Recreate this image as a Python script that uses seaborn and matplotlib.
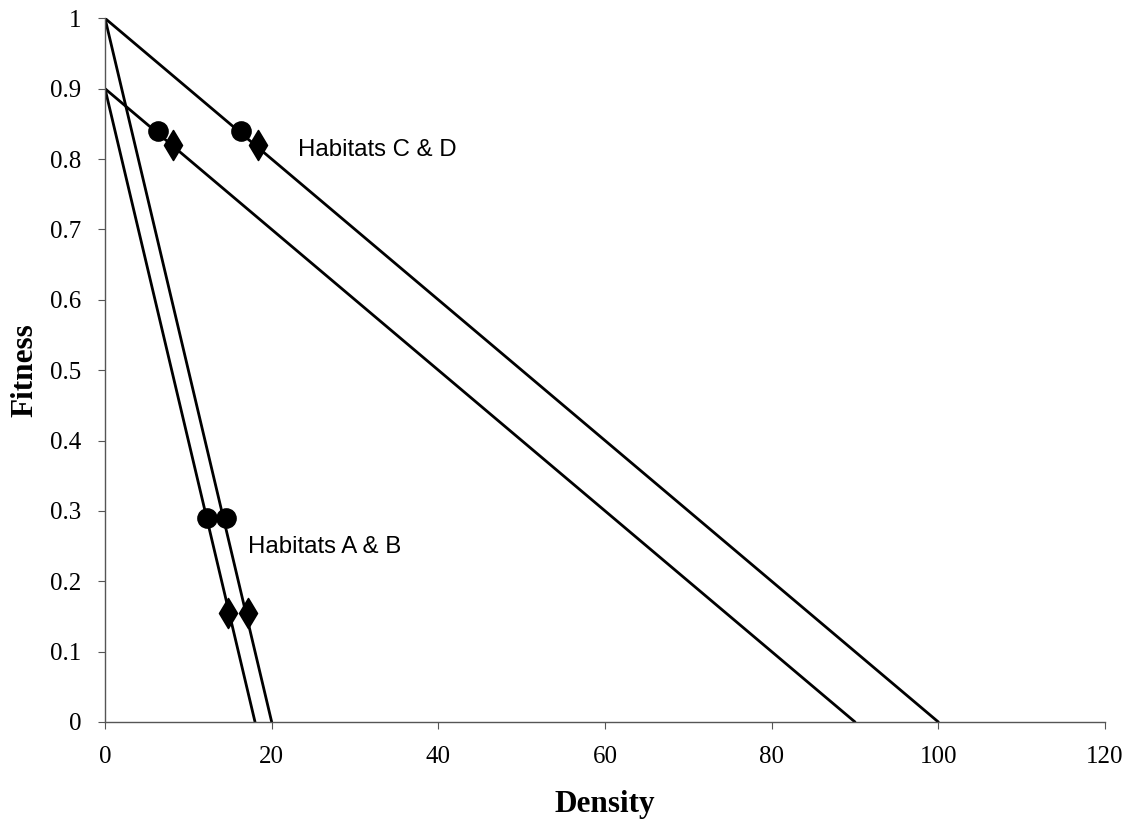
import pandas as pd
import matplotlib.pyplot as plt
import seaborn as sns

# lines: start and end points of each fitness function
line_names = ['C', 'D', 'A', 'B']
line_x0 = [0, 0, 0, 0]
line_y0 = [1.0, 0.9, 1.0, 0.9]
line_x1 = [100, 90, 20, 18]
line_y1 = [0, 0, 0, 0]

# equilibrium points
circle_x = [6.3, 16.3, 12.2, 14.5]
circle_y = [0.84, 0.84, 0.29, 0.29]
diamond_x = [8.2, 18.4, 14.8, 17.1]
diamond_y = [0.82, 0.82, 0.155, 0.155]

xticks = [0, 20, 40, 60, 80, 100, 120]
yticks = [0, 0.1, 0.2, 0.3, 0.4, 0.5, 0.6, 0.7, 0.8, 0.9, 1]
ytick_labels = ['0', '0.1', '0.2', '0.3', '0.4', '0.5', '0.6', '0.7', '0.8', '0.9', '1']

rows = []
for n, a, b, c, d in zip(line_names, line_x0, line_y0, line_x1, line_y1):
    rows.append({'line': n, 'x': a, 'y': b})
    rows.append({'line': n, 'x': c, 'y': d})
lines_df = pd.DataFrame(rows)
circles = pd.DataFrame({'x': circle_x, 'y': circle_y})
diamonds = pd.DataFrame({'x': diamond_x, 'y': diamond_y})

sns.set_style('white')
fig = plt.figure(figsize=(11.33, 8.34), dpi=100)
ax = fig.add_axes([0.0927, 0.1343, 0.8826, 0.8437])

sns.lineplot(data=lines_df, x='x', y='y', units='line', estimator=None,
             color='black', linewidth=2, ax=ax, sort=False)
sns.scatterplot(data=circles, x='x', y='y', marker='o', s=190, color='black',
                edgecolor='black', ax=ax, zorder=5)
sns.scatterplot(data=diamonds, x='x', y='y', marker='d', s=230, color='black',
                edgecolor='black', ax=ax, zorder=5)

ax.set_xlim(0, 120)
ax.set_ylim(0, 1)
ax.set_xticks(xticks)
ax.set_yticks(yticks)
ax.set_yticklabels(ytick_labels)
for lab in ax.get_xticklabels() + ax.get_yticklabels():
    lab.set_fontfamily('Liberation Serif')
    lab.set_fontsize(18)
    lab.set_color('black')
ax.tick_params(axis='both', direction='out', length=5, width=0.8,
               color='#555555', pad=12, left=True, bottom=True)

for side in ['top', 'right']:
    ax.spines[side].set_visible(False)
for side in ['left', 'bottom']:
    ax.spines[side].set_color('#555555')
    ax.spines[side].set_linewidth(1)

ax.set_xlabel('Density', fontfamily='Liberation Serif', fontsize=22.5,
              fontweight='bold', labelpad=16, color='black')
ax.set_ylabel('Fitness', fontfamily='Liberation Serif', fontsize=22.5,
              fontweight='bold', labelpad=8, color='black')

ax.text(23.2, 0.813, 'Habitats C & D', fontfamily='Liberation Sans',
        fontsize=17.3, va='center', color='black')
ax.text(17.1, 0.248, 'Habitats A & B', fontfamily='Liberation Sans',
        fontsize=17.3, va='center', color='black')

fig.savefig('out.png', dpi=100)
